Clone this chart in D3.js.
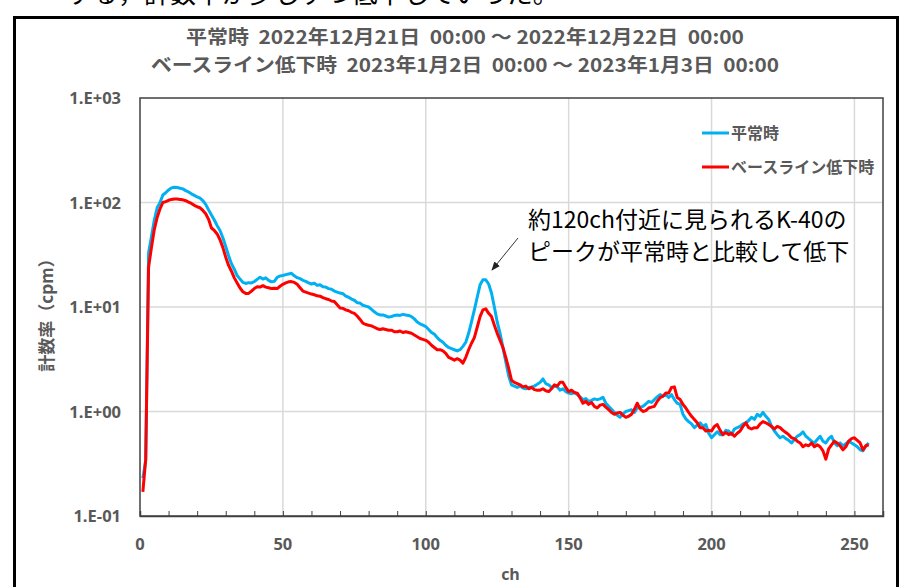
<!DOCTYPE html>
<html>
<head>
  <meta charset="utf-8">
  <title>計数率スペクトル</title>
  <style>
    body {
      margin: 0;
      padding: 0;
      background-color: #fff;
      overflow: hidden;
    }
    svg text {
      font-family: "Noto Sans CJK JP", "Noto Sans", sans-serif;
    }
  </style>
</head>
<body>
  <div id="chart"></div>

  <script src="https://d3js.org/d3.v7.min.js"></script>
  <script>
    // series names
    const seriesNames = ['平常時', 'ベースライン低下時'];
    const seriesColors = ['#00B0F0', '#FF0000'];

    // channels 1..255
    const channels = d3.range(1, 256);

    // 平常時 (cpm), ch1..255
    const normal = [
      0.23,0.34,33,47,68,89,100,118,124,132,
      138,140,139,137,135,130,126,121,117,113,
      110,104,96,85,76,68,60,54,46,38,
      31,26,23,20,18.5,17.2,16.8,17.1,17.0,17.5,
      18.4,19.3,18.5,19.0,18.0,17.4,17.6,19.2,19.8,20.0,
      20.4,20.7,21.0,19.9,19.1,18.7,18.0,17.6,17.0,16.6,
      16.9,16.1,16.3,15.6,15.5,15.0,14.8,14.2,13.9,13.6,
      13.4,12.7,12.4,11.9,11.6,11.0,10.9,10.4,10.2,10.0,
      9.5,9.0,8.6,8.4,8.4,8.2,8.0,8.1,8.3,8.4,
      8.3,8.5,8.4,8.3,8.1,7.7,7.2,6.9,6.7,6.5,
      6.1,5.7,5.5,5.1,4.8,4.6,4.3,4.1,4.0,3.9,
      3.8,3.9,4.2,4.6,5.6,7.2,9.4,12.4,16.3,18.2,
      18.2,16.6,13.6,10.0,7.2,5.6,4.1,3.0,2.2,1.8,
      1.75,1.7,1.75,1.68,1.65,1.7,1.72,1.75,1.82,1.9,
      2.05,1.85,1.8,1.7,1.75,1.72,1.6,1.65,1.55,1.5,
      1.48,1.52,1.45,1.38,1.3,1.33,1.25,1.28,1.32,1.3,
      1.32,1.37,1.2,1.12,1.05,0.98,0.92,0.88,0.95,1.0,
      1.02,1.04,0.98,1.08,1.1,1.12,1.18,1.25,1.22,1.3,
      1.38,1.45,1.4,1.45,1.36,1.45,1.3,1.2,1.17,0.94,
      0.85,0.8,0.76,0.7,0.74,0.78,0.72,0.75,0.62,0.56,
      0.6,0.64,0.6,0.6,0.66,0.65,0.6,0.68,0.7,0.72,
      0.76,0.78,0.82,0.88,0.84,0.94,0.9,0.98,0.9,0.84,
      0.72,0.65,0.6,0.56,0.58,0.55,0.53,0.5,0.54,0.58,
      0.6,0.64,0.58,0.55,0.52,0.5,0.54,0.58,0.52,0.5,
      0.55,0.58,0.5,0.47,0.5,0.47,0.49,0.52,0.5,0.48,
      0.46,0.43,0.42,0.47,0.5
    ];

    // ベースライン低下時 (cpm), ch1..255
    const lowered = [
      0.17,0.35,24,37,55,72,87,100,102,105,
      107,108,108,107,106,104,101,98,94,91,
      89,84,78,69,57,54,50,44,37,30,
      25,22,19,17,15.2,14,13.5,13.5,14.2,15.0,
      15.6,15.5,16.0,15.5,15.3,15.0,15.1,15.0,15.8,16.5,
      17.0,17.4,17.5,17.2,16.5,15.3,14.2,13.9,13.6,13.3,
      13.1,12.8,12.7,12.3,12.0,11.8,11.4,11.3,10.5,9.8,
      9.7,9.4,9.2,8.9,8.7,8.2,7.6,7.0,6.8,6.7,
      6.6,6.4,6.2,6.1,6.2,6.1,6.0,6.0,5.8,5.8,
      5.9,5.7,5.8,5.7,5.6,5.4,5.2,5.0,4.9,4.8,
      4.6,4.3,4.1,3.9,3.9,3.8,3.6,3.3,3.2,3.1,
      3.2,3.1,2.9,3.3,3.9,4.5,5.1,6.4,8.1,9.4,
      9.6,8.7,8.1,6.7,5.6,4.8,4.1,3.3,2.6,2.0,
      1.9,1.85,1.8,1.72,1.75,1.65,1.7,1.62,1.6,1.6,
      1.65,1.58,1.55,1.65,1.8,1.75,1.9,1.9,1.7,1.55,
      1.6,1.52,1.5,1.35,1.2,1.25,1.17,1.22,1.12,1.08,
      1.15,1.17,1.1,1.04,0.98,0.94,0.97,0.98,0.92,0.88,
      0.9,0.94,1.05,1.2,1.06,1.0,1.02,1.08,1.1,1.12,
      1.25,1.36,1.4,1.5,1.5,1.7,1.72,1.36,1.3,1.17,
      1.08,0.98,0.9,0.84,0.78,0.7,0.7,0.65,0.66,0.65,
      0.72,0.75,0.66,0.6,0.63,0.6,0.62,0.58,0.62,0.65,
      0.72,0.78,0.7,0.68,0.7,0.7,0.76,0.8,0.78,0.75,
      0.72,0.68,0.72,0.7,0.66,0.63,0.6,0.56,0.55,0.52,
      0.5,0.46,0.48,0.47,0.5,0.46,0.48,0.46,0.42,0.35,
      0.44,0.48,0.52,0.5,0.47,0.43,0.46,0.52,0.55,0.56,
      0.53,0.5,0.43,0.47,0.48
    ];

    const xTicks = [0, 50, 100, 150, 200, 250];
    const xMinorTicks = d3.range(0, 261, 10);
    const yTicks = [0.1, 1, 10, 100, 1000];

    const titleLines = [
      '平常時  2022年12月21日  00:00 ～ 2022年12月22日  00:00',
      'ベースライン低下時  2023年1月2日  00:00 ～ 2023年1月3日  00:00'
    ];
    const noteLines = ['約120ch付近に見られるK-40の', 'ピークが平常時と比較して低下'];

    const W = 902, H = 587;
    const plot = { left: 140, right: 883, top: 98, bottom: 516 };
    const grey = '#595959';

    const svg = d3.select('#chart').append('svg')
      .attr('width', W).attr('height', H);

    // text cut off above the frame
    svg.append('text')
      .attr('x', 40).attr('y', 3)
      .attr('font-size', 26).attr('fill', '#000')
      .text('ーする，計数率が少しずつ低下していった。');

    // outer frame
    svg.append('rect')
      .attr('x', 14.5).attr('y', 17.5)
      .attr('width', 883).attr('height', 600)
      .attr('fill', '#fff').attr('stroke', '#000').attr('stroke-width', 3);

    const x = d3.scaleLinear().domain([0, 260]).range([plot.left, plot.right]);
    const y = d3.scaleLog().domain([0.1, 1000]).range([plot.bottom, plot.top]);

    // grid
    svg.append('g').selectAll('line.hg')
      .data(yTicks.slice(1, -1))
      .enter().append('line')
      .attr('x1', plot.left).attr('x2', plot.right)
      .attr('y1', d => y(d)).attr('y2', d => y(d))
      .attr('stroke', '#d9d9d9').attr('stroke-width', 1.5);

    svg.append('g').selectAll('line.vg')
      .data(xTicks.slice(1))
      .enter().append('line')
      .attr('x1', d => x(d)).attr('x2', d => x(d))
      .attr('y1', plot.top).attr('y2', plot.bottom)
      .attr('stroke', '#d9d9d9').attr('stroke-width', 1.5);

    // plot border
    svg.append('rect')
      .attr('x', plot.left).attr('y', plot.top)
      .attr('width', plot.right - plot.left).attr('height', plot.bottom - plot.top)
      .attr('fill', 'none').attr('stroke', '#404040').attr('stroke-width', 1.5);

    // x axis: minor ticks pointing inward
    const xAxis = svg.append('g')
      .attr('transform', `translate(0,${plot.bottom})`)
      .call(d3.axisBottom(x).tickValues(xMinorTicks).tickSize(-5).tickFormat(''));
    xAxis.select('.domain').attr('stroke', '#404040').attr('stroke-width', 1.5);
    xAxis.selectAll('.tick line').attr('stroke', '#404040');

    svg.append('g').selectAll('text')
      .data(xTicks)
      .enter().append('text')
      .attr('x', d => x(d)).attr('y', 550)
      .attr('text-anchor', 'middle')
      .attr('font-size', 16.5).attr('font-weight', 'bold').attr('fill', grey)
      .style('font-family', '"Open Sans", sans-serif')
      .text(d => d);

    // y tick labels
    const fmtExp = d => {
      const e = Math.round(Math.log10(d));
      return '1.E' + (e < 0 ? '-' : '+') + String(Math.abs(e)).padStart(2, '0');
    };
    svg.append('g').selectAll('text')
      .data(yTicks)
      .enter().append('text')
      .attr('x', 121).attr('y', d => y(d) + 6)
      .attr('text-anchor', 'end')
      .attr('font-size', 16.5).attr('font-weight', 'bold').attr('fill', grey)
      .style('font-family', '"Open Sans", sans-serif')
      .text(fmtExp);

    // axis titles
    svg.append('text')
      .attr('x', (plot.left + plot.right) / 2 - 1).attr('y', 580)
      .attr('text-anchor', 'middle')
      .attr('font-size', 16).attr('font-weight', 'bold').attr('fill', grey)
      .style('font-family', '"Open Sans", sans-serif')
      .text('ch');

    svg.append('text')
      .attr('transform', 'translate(53,311) rotate(-90)')
      .attr('text-anchor', 'middle')
      .attr('font-size', 17).attr('font-weight', 'bold').attr('fill', grey)
      .text('計数率（cpm）');

    // titles (keep double spaces)
    titleLines.forEach((t, i) => {
      svg.append('text')
        .attr('x', 465).attr('y', 44 + i * 28)
        .attr('text-anchor', 'middle')
        .attr('font-size', 19).attr('font-weight', 'bold').attr('fill', grey)
        .attr('textLength', i === 0 ? 558 : 628).attr('lengthAdjust', 'spacingAndGlyphs')
        .style('white-space', 'pre')
        .text(t);
    });

    // series lines
    const series = [normal, lowered];
    const line = d3.line()
      .x((d, i) => x(channels[i]))
      .y(d => y(d));

    svg.append('g').selectAll('path')
      .data(series)
      .enter().append('path')
      .attr('d', line)
      .attr('fill', 'none')
      .attr('stroke', (d, i) => seriesColors[i])
      .attr('stroke-width', 3)
      .attr('stroke-linejoin', 'round');

    // legend
    const legend = svg.append('g').selectAll('g')
      .data(seriesNames)
      .enter().append('g')
      .attr('transform', (d, i) => `translate(702,${133 + i * 34})`);
    legend.append('line')
      .attr('x1', 0).attr('x2', 27)
      .attr('stroke', (d, i) => seriesColors[i]).attr('stroke-width', 3);
    legend.append('text')
      .attr('x', 29).attr('y', 6)
      .attr('font-size', 16).attr('font-weight', 'bold').attr('fill', grey)
      .text(d => d);

    // annotation
    svg.append('g').selectAll('text')
      .data(noteLines)
      .enter().append('text')
      .attr('x', 528).attr('y', (d, i) => 228 + i * 32)
      .attr('font-size', 23).attr('fill', '#000')
      .text(d => d);

    svg.append('defs').append('marker')
      .attr('id', 'arrow')
      .attr('viewBox', '0 0 10 10')
      .attr('refX', 9).attr('refY', 5)
      .attr('markerWidth', 9).attr('markerHeight', 9)
      .attr('orient', 'auto')
      .append('path')
      .attr('d', 'M0,1 L10,5 L0,9 Z')
      .attr('fill', '#222');

    svg.append('line')
      .attr('x1', 518).attr('y1', 238)
      .attr('x2', 492).attr('y2', 270)
      .attr('stroke', '#333').attr('stroke-width', 1)
      .attr('marker-end', 'url(#arrow)');
  </script>
</body>
</html>
